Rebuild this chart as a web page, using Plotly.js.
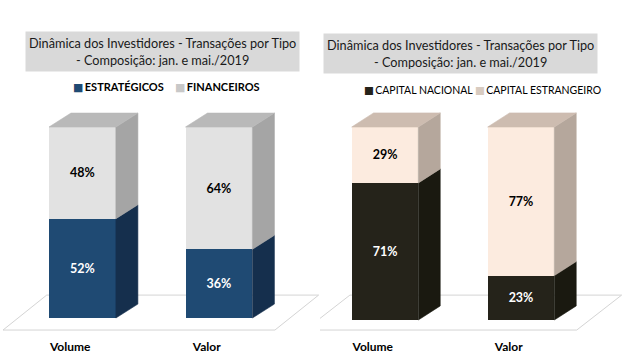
<!DOCTYPE html>
<html><head><meta charset="utf-8">
<script src="https://cdn.plot.ly/plotly-3.0.1.min.js"></script>
<style>html,body{margin:0;padding:0;background:#fff;overflow:hidden}#chart{width:640px;height:364px}</style>
</head><body><div id="chart"></div>
<script>
// ---- data ----
const categories = ['Volume', 'Valor'];
const estrategicos = [52, 36];
const financeiros = [48, 64];
const capitalNacional = [71, 23];
const capitalEstrangeiro = [29, 77];
const legendLeft = ['ESTRATÉGICOS', 'FINANCEIROS'];
const legendRight = ['CAPITAL NACIONAL', 'CAPITAL ESTRANGEIRO'];
const titleText = 'Dinâmica dos Investidores - Transações por Tipo<br>- Composição: jan. e mai./2019';

// ---- style ----
const W = 0.49, DX = 0.161, DY = 7.3;
const xs = categories.map((c, i) => i);
const FONT = 'Lato, "Open Sans", sans-serif';
const colLeft = ['#1f4a73', '#e2e2e2'];
const colRight = ['#25231a', '#fcebdf'];

function faces(lower, upper, xa, ya, sideLo, sideHi, topCol) {
  const sl = {x: [], y: []}, sh = {x: [], y: []}, tp = {x: [], y: []};
  xs.forEach((x, i) => {
    const x0 = x - W / 2, x1 = x + W / 2, lo = lower[i], t = lower[i] + upper[i];
    sl.x.push(x1, x1 + DX, x1 + DX, x1, x1, null); sl.y.push(0, DY, lo + DY, lo, 0, null);
    sh.x.push(x1, x1 + DX, x1 + DX, x1, x1, null); sh.y.push(lo, lo + DY, t + DY, t, lo, null);
    tp.x.push(x0, x1, x1 + DX, x0 + DX, x0, null); tp.y.push(t, t, t + DY, t + DY, t, null);
  });
  const mk = (p, c) => ({type: 'scatter', mode: 'lines', x: p.x, y: p.y, fill: 'toself', fillcolor: c,
    line: {width: 0.6, color: c}, xaxis: xa, yaxis: ya, showlegend: false, hoverinfo: 'skip'});
  return [mk(sl, sideLo), mk(sh, sideHi), mk(tp, topCol)];
}

function bar(vals, name, color, tcolor, xa, ya) {
  return {type: 'bar', x: xs, y: vals, name: name, width: W, marker: {color: color, line: {width: 0}},
    text: vals.map(v => v + '%'), textposition: 'inside', insidetextanchor: 'middle', textangle: 0,
    textfont: {color: tcolor, size: 12.5, family: FONT, weight: 'bold'},
    xaxis: xa, yaxis: ya, showlegend: false, hoverinfo: 'skip'};
}

const data = [
  bar(estrategicos, legendLeft[0], colLeft[0], '#ffffff', 'x', 'y'),
  bar(financeiros, legendLeft[1], colLeft[1], '#000000', 'x', 'y'),
  bar(capitalNacional, legendRight[0], colRight[0], '#ffffff', 'x2', 'y2'),
  bar(capitalEstrangeiro, legendRight[1], colRight[1], '#000000', 'x2', 'y2'),
  ...faces(estrategicos, financeiros, 'x', 'y', '#152f4d', '#a5a5a5', '#b9b9b9'),
  ...faces(capitalNacional, capitalEstrangeiro, 'x2', 'y2', '#1a1910', '#b5a79c', '#cdbcb0')
];

function floorPath(n, xf0, xf1, fdx, y0, y1) {
  const a = xf0, b = n - 1 + xf1;
  return `M${a},${y0} L${b},${y0} L${b + fdx},${y1} L${a + fdx},${y1} Z`;
}
const n = categories.length;
const shapes = [
  {type: 'path', xref: 'x', yref: 'y', layer: 'below', path: floorPath(n, -0.582, 0.41, 0.32, -6.3, 12.0),
    line: {color: '#d4d4d4', width: 1}, fillcolor: 'rgba(0,0,0,0)'},
  {type: 'path', xref: 'x2', yref: 'y2', layer: 'below', path: floorPath(n, -0.588, 0.41, 0.33, -5.2, 12.9),
    line: {color: '#d4d4d4', width: 1}, fillcolor: 'rgba(0,0,0,0)'}
];

const xcommon = {showgrid: false, zeroline: false, showline: false, ticks: '',
  tickvals: xs.map(x => x - 0.09), ticktext: categories,
  tickfont: {family: FONT, size: 12, weight: 'bold', color: '#000'}, ticklabelstandoff: 2, fixedrange: true};
const ybot = 28 / 364;

function legendItem(label, color, px, py, bold) {
  return {text: '<span style="color:' + color + ';font-family:DejaVu Sans">■</span>\u2009' + label,
    xref: 'paper', yref: 'paper', x: px / 640, y: 1 - py / 364, xanchor: 'left', yanchor: 'middle',
    showarrow: false, font: {family: FONT, size: bold ? 11 : 10.5, weight: bold ? 'bold' : 'normal', color: '#000'}};
}

const layout = {
  width: 640, height: 364, margin: {l: 0, r: 0, t: 0, b: 0, autoexpand: false},
  paper_bgcolor: '#ffffff', plot_bgcolor: 'rgba(0,0,0,0)',
  barmode: 'stack', bargap: 0, showlegend: false,
  font: {family: FONT, color: '#000'},
  xaxis: Object.assign({}, xcommon, {domain: [0, 0.5], range: [-0.604, 1.74], anchor: 'y'}),
  yaxis: {domain: [ybot, 1], range: [-9.42, 166.5], visible: false, fixedrange: true, anchor: 'x'},
  xaxis2: Object.assign({}, xcommon, {domain: [0.5, 1], range: [-0.478, 1.875], anchor: 'y2'}),
  yaxis2: {domain: [ybot, 1], range: [-8.29, 165.8], visible: false, fixedrange: true, anchor: 'x2'},
  shapes: shapes,
  annotations: [
    {text: titleText, xref: 'paper', yref: 'paper', x: 162 / 640, y: 1 - 52 / 364, xanchor: 'center', yanchor: 'middle',
      showarrow: false, bgcolor: '#d9d9d9', borderpad: 3, font: {family: FONT, size: 12.7, color: '#1a1a1a'}},
    {text: titleText, xref: 'paper', yref: 'paper', x: 460 / 640, y: 1 - 53 / 364, xanchor: 'center', yanchor: 'middle',
      showarrow: false, bgcolor: '#d9d9d9', borderpad: 3, font: {family: FONT, size: 12.7, color: '#1a1a1a'}},
    legendItem(legendLeft[0], colLeft[0], 71, 87, true),
    legendItem(legendLeft[1], '#c8c8c8', 173, 87, true),
    legendItem(legendRight[0], colRight[0], 362, 90, false),
    legendItem(legendRight[1], '#d8cbc0', 473, 90, false)
  ]
};

Plotly.newPlot('chart', data, layout, {displayModeBar: false, staticPlot: true});
</script>
</body></html>
